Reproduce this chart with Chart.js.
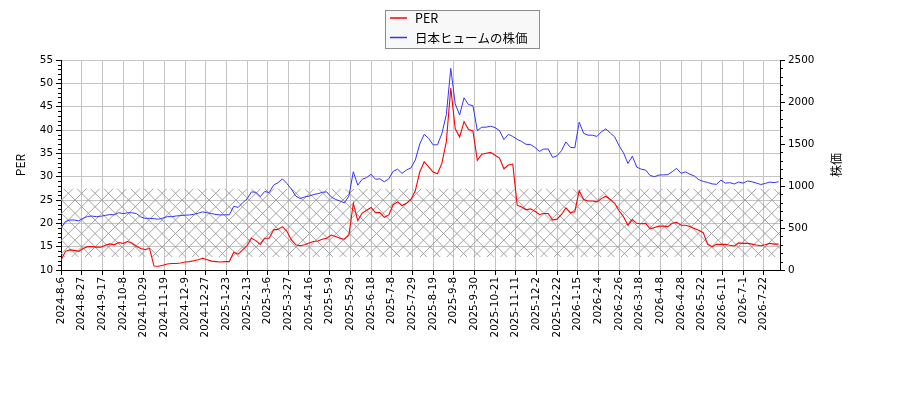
<!DOCTYPE html>
<html><head><meta charset="utf-8">
<script src="https://cdn.jsdelivr.net/npm/chart.js@4.4.1/dist/chart.umd.min.js"></script>
<style>html,body{margin:0;padding:0;background:#fff}#wrap{width:900px;height:400px;position:relative}</style>
</head><body><div id="wrap"><canvas id="c"></canvas></div>
<script>
// x-axis tick labels (one every 14 trading days)
const tickLabels = ['2024-8-6','2024-8-27','2024-9-17','2024-10-8','2024-10-29','2024-11-19','2024-12-9','2024-12-27','2025-1-23','2025-2-13','2025-3-6','2025-3-27','2025-4-16','2025-5-9','2025-5-29','2025-6-18','2025-7-8','2025-7-29','2025-8-19','2025-9-8','2025-9-30','2025-10-21','2025-11-11','2025-12-2','2025-12-22','2026-1-15','2026-2-4','2026-2-26','2026-3-18','2026-4-8','2026-4-28','2026-5-22','2026-6-11','2026-7-1','2026-7-22'];
const TICK_EVERY = 14;     // trading days between labels
const SAMPLE_STEP = 3;     // trading days between samples below
const LAST_INDEX = 487;

// PER, sampled every 3 trading days
const perValues = [
12.1,14.0,14.3,14.2,14.0,14.6,15.0,15.0,14.9,14.9,
15.3,15.6,15.4,15.9,15.7,16.1,15.8,15.1,14.6,14.4,
14.6,10.85,10.8,11.0,11.3,11.4,11.4,11.5,11.7,11.8,
12.0,12.2,12.5,12.2,11.9,11.8,11.7,11.8,11.8,13.8,
13.4,14.3,15.2,16.8,16.3,15.5,16.8,16.8,18.6,18.7,
19.3,18.3,16.5,15.4,15.2,15.4,15.8,16.1,16.2,16.6,
16.8,17.5,17.2,16.8,16.6,17.5,24.3,20.6,22.2,22.8,
23.4,22.3,22.3,21.3,21.8,24.0,24.6,23.8,24.3,25.1,
27.0,31.0,33.2,32.1,31.0,30.6,32.9,37.5,49.0,40.3,
38.5,41.8,40.1,39.8,33.5,34.8,35.0,35.2,34.6,34.0,
31.7,32.5,32.7,23.9,23.5,22.9,23.1,22.6,21.9,22.1,
22.1,20.7,20.9,21.9,23.3,22.3,22.5,27.0,25.1,24.8,
24.8,24.6,25.3,25.8,25.1,24.3,22.7,21.4,19.6,20.8,
20.0,19.9,20.0,18.8,19.1,19.4,19.4,19.3,20.0,20.2,
19.6,19.6,19.3,18.9,18.5,18.0,15.5,15.0,15.5,15.5,
15.5,15.3,15.15,15.8,15.7,15.7,15.55,15.35,15.2,15.4,
15.7,15.55,15.55];

// share price, sampled every 3 trading days
const priceValues = [
500,578,595,595,585,615,638,642,635,640,
650,660,657,682,672,680,682,672,632,615,
615,610,605,618,635,635,643,648,653,655,
663,676,692,682,671,661,655,657,657,758,
745,800,845,930,925,873,935,922,1010,1040,
1085,1030,965,880,850,870,880,898,908,925,
930,870,840,820,800,880,1170,1010,1080,1100,
1140,1080,1085,1050,1085,1175,1200,1150,1190,1215,
1310,1500,1615,1568,1490,1490,1625,1850,2400,1980,
1845,2050,1970,1956,1660,1700,1700,1712,1695,1660,
1552,1615,1590,1555,1530,1496,1494,1460,1412,1440,
1440,1340,1360,1420,1525,1460,1455,1760,1627,1605,
1605,1590,1645,1680,1633,1585,1480,1395,1268,1355,
1225,1200,1190,1125,1111,1130,1133,1135,1170,1210,
1151,1168,1140,1118,1075,1055,1042,1025,1020,1070,
1034,1040,1024,1047,1034,1060,1050,1035,1018,1030,
1047,1040,1051];

const hatchBand = [12.8, 27.4];   // PER band shown hatched
const seriesNames = ['PER', '日本ヒュームの株価'];
const axisTitles = ['PER', '株価'];

const RED = '#ff0000', BLUE = '#3333ff';
const TICK_FONT = {family: 'DejaVu Sans', size: 10.4};
const JP_FONT = '"Noto Sans CJK JP", "DejaVu Sans", sans-serif';

const toPts = arr => arr.map((v, k) => ({x: k * SAMPLE_STEP, y: v}));

const deco = {
  id: 'deco',
  beforeDatasetsDraw(chart) {
    const {ctx, chartArea: a} = chart;
    const ys = chart.scales.y;
    const top = ys.getPixelForValue(hatchBand[1]);
    const bot = ys.getPixelForValue(hatchBand[0]);
    ctx.save();
    ctx.beginPath();
    ctx.rect(a.left, top, a.right - a.left, bot - top);
    ctx.clip();
    ctx.strokeStyle = '#9a9a9a';
    ctx.lineWidth = 0.9;
    const s = 13.4, ax = 68.3, ay = 193.3;
    ctx.beginPath();
    for (let n = -80; n <= 80; n++) {
      const c = ay - ax + n * s;        // y = x + c
      ctx.moveTo(a.left - 100, a.left - 100 + c);
      ctx.lineTo(a.right + 100, a.right + 100 + c);
      const d = ay + ax + n * s;        // y = -x + d
      ctx.moveTo(a.left - 100, -(a.left - 100) + d);
      ctx.lineTo(a.right + 100, -(a.right + 100) + d);
    }
    ctx.stroke();
    ctx.restore();
  },
  afterDraw(chart) {
    const {ctx, chartArea: a} = chart;
    const ys = chart.scales.y, y1 = chart.scales.y1;
    ctx.save();
    // minor ticks
    ctx.strokeStyle = '#000';
    ctx.lineWidth = 1;
    ctx.beginPath();
    for (let v = 10; v <= 55; v++) {
      if (v % 5 === 0) continue;
      const p = Math.round(ys.getPixelForValue(v)) + 0.5;
      ctx.moveTo(a.left - 3, p); ctx.lineTo(a.left, p);
    }
    for (let v = 0; v <= 2500; v += 100) {
      if (v % 500 === 0) continue;
      const p = Math.round(y1.getPixelForValue(v)) + 0.5;
      ctx.moveTo(a.right, p); ctx.lineTo(a.right + 3, p);
    }
    ctx.stroke();
    // axis titles
    ctx.fillStyle = '#000';
    ctx.textAlign = 'center';
    ctx.textBaseline = 'middle';
    ctx.font = '12px ' + JP_FONT;
    const cy = (a.top + a.bottom) / 2;
    ctx.save(); ctx.translate(20, cy); ctx.rotate(-Math.PI / 2); ctx.fillText(axisTitles[0], 0, 0); ctx.restore();
    ctx.save(); ctx.translate(836, cy); ctx.rotate(-Math.PI / 2); ctx.fillText(axisTitles[1], 0, 0); ctx.restore();
    // legend
    ctx.fillStyle = '#f8f8f8';
    ctx.strokeStyle = '#8c8c8c';
    ctx.lineWidth = 1;
    ctx.fillRect(385.5, 10.5, 154, 38);
    ctx.strokeRect(385.5, 10.5, 154, 38);
    const rows = [[RED, 18], [BLUE, 37.5]];
    ctx.font = '12.5px ' + JP_FONT;
    ctx.textAlign = 'left';
    rows.forEach(([col, yy], i) => {
      ctx.strokeStyle = col; ctx.lineWidth = 1.5;
      ctx.beginPath(); ctx.moveTo(390, yy); ctx.lineTo(407, yy); ctx.stroke();
      ctx.fillStyle = '#000';
      ctx.fillText(seriesNames[i], 415, yy + 0.5);
    });
    ctx.restore();
  }
};

new Chart(document.getElementById('c'), {
  type: 'line',
  data: {
    datasets: [
      {label: seriesNames[1], data: toPts(priceValues), yAxisID: 'y1', borderColor: BLUE, borderWidth: 1, pointRadius: 0, tension: 0, fill: false},
      {label: seriesNames[0], data: toPts(perValues), yAxisID: 'y', borderColor: RED, borderWidth: 1.1, pointRadius: 0, tension: 0, fill: false}
    ]
  },
  options: {
    responsive: true, maintainAspectRatio: false, animation: false,
    layout: {padding: {top: 60, left: 0, right: 0, bottom: 0}},
    plugins: {legend: {display: false}, tooltip: {enabled: false}},
    scales: {
      x: {
        type: 'linear', min: 0, max: LAST_INDEX,
        afterBuildTicks: s => { s.ticks = tickLabels.map((_, i) => ({value: i * TICK_EVERY})); },
        afterFit: s => { s.height = 130; },
        ticks: {callback: (v, i) => tickLabels[i], autoSkip: false, maxRotation: 90, minRotation: 90, font: TICK_FONT, color: '#000', padding: 2},
        grid: {color: '#c4c4c4', lineWidth: 1, tickLength: 5, tickColor: '#000'},
        border: {color: '#000', width: 1}
      },
      y: {
        type: 'linear', position: 'left', min: 10, max: 55,
        afterFit: s => { s.width = 61; },
        ticks: {stepSize: 5, font: TICK_FONT, color: '#000', padding: 3, callback: v => String(v)},
        grid: {color: '#c4c4c4', lineWidth: 1, tickLength: 5, tickColor: '#000'},
        border: {color: '#000', width: 1}
      },
      y1: {
        type: 'linear', position: 'right', min: 0, max: 2500,
        afterFit: s => { s.width = 120; },
        ticks: {stepSize: 500, font: TICK_FONT, color: '#000', padding: 3, callback: v => String(v)},
        grid: {drawOnChartArea: false, tickLength: 5, tickColor: '#000'},
        border: {color: '#000', width: 1}
      }
    }
  },
  plugins: [deco]
});
</script></body></html>
